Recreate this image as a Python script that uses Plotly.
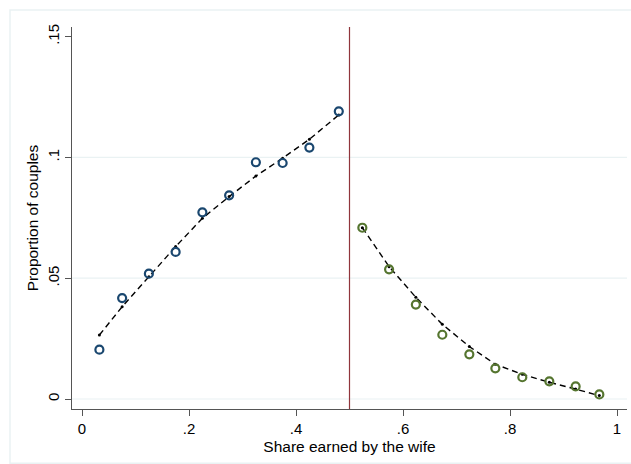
import plotly.graph_objects as go

# Binned shares of income earned by the wife, and proportion of couples per bin
share_below = [0.0325, 0.075, 0.125, 0.175, 0.225, 0.275, 0.325, 0.375, 0.425, 0.48]
prop_below = [0.0204, 0.0418, 0.0519, 0.0609, 0.0773, 0.0843, 0.0980, 0.0977, 0.1041, 0.1191]
fit_below = [0.0265, 0.0382, 0.0506, 0.0631, 0.0748, 0.0838, 0.0923, 0.0997, 0.1075, 0.1176]

share_above = [0.524, 0.574, 0.624, 0.6735, 0.724, 0.7726, 0.823, 0.8735, 0.9227, 0.967]
prop_above = [0.0709, 0.0537, 0.0391, 0.0266, 0.0185, 0.0127, 0.0090, 0.0073, 0.0052, 0.0019]
fit_above = [0.0709, 0.0548, 0.0421, 0.0309, 0.0217, 0.0144, 0.0102, 0.0069, 0.0041, 0.0014]

threshold = 0.5
x_ticks = [0, 0.2, 0.4, 0.6, 0.8, 1]
x_tick_labels = ["0", ".2", ".4", ".6", ".8", "1"]
y_ticks = [0, 0.05, 0.1, 0.15]
y_tick_labels = ["0", ".05", ".1", ".15"]
y_grid = [0, 0.05, 0.1]

NAVY = "#1a476f"
GREEN = "#55752f"
MAROON = "#90353b"
GRID = "#eaf2f3"
AXIS = "#555555"
FONT = "Liberation Sans, Arial, sans-serif"

fig = go.Figure()

# Horizontal gridlines
for g in y_grid:
    fig.add_shape(type="line", xref="paper", yref="y", x0=0, x1=1, y0=g, y1=g,
                  line=dict(color=GRID, width=1.2), layer="below")

# Fitted curves (dashed, with small dots at bin centres)
for xs, ys in [(share_below, fit_below), (share_above, fit_above)]:
    fig.add_trace(go.Scatter(
        x=xs, y=ys, mode="lines+markers",
        line=dict(color="black", width=1.4, dash="6px,4px"),
        marker=dict(color="black", size=3),
        hoverinfo="skip", showlegend=False,
    ))

# Observed bin proportions
fig.add_trace(go.Scatter(
    x=share_below, y=prop_below, mode="markers",
    marker=dict(symbol="circle-open", size=8, color=NAVY, line=dict(width=2.2, color=NAVY)),
    showlegend=False,
))
fig.add_trace(go.Scatter(
    x=share_above, y=prop_above, mode="markers",
    marker=dict(symbol="circle-open", size=8, color=GREEN, line=dict(width=2.2, color=GREEN)),
    showlegend=False,
))

# Vertical line at equal earnings
fig.add_shape(type="line", xref="x", yref="paper", x0=threshold, x1=threshold, y0=0, y1=1,
              line=dict(color=MAROON, width=1.2), layer="above")

# Outer graph-region frame
fig.add_shape(type="rect", xref="paper", yref="paper",
              x0=-0.1117, x1=1.02, y0=-0.142, y1=1.0445,
              line=dict(color=GRID, width=1.5), layer="below")

fig.update_layout(
    width=631, height=464,
    margin=dict(l=72, r=4, t=27, b=55),
    paper_bgcolor="white", plot_bgcolor="white",
    font=dict(family=FONT, size=15, color="black"),
    xaxis=dict(
        range=[-0.0187, 1.0187],
        tickvals=x_ticks, ticktext=x_tick_labels,
        showgrid=False, zeroline=False,
        showline=True, linecolor=AXIS, linewidth=1.3,
        ticks="outside", ticklen=6, tickcolor=AXIS, tickwidth=1.2,
        tickfont=dict(size=15),
        title=dict(text="Share earned by the wife", font=dict(size=15.5), standoff=4),
    ),
    yaxis=dict(
        range=[-0.00414, 0.154],
        tickvals=y_ticks, ticktext=y_tick_labels,
        tickangle=-90,
        showgrid=False, zeroline=False,
        showline=True, linecolor=AXIS, linewidth=1.3,
        ticks="outside", ticklen=6, tickcolor=AXIS, tickwidth=1.2,
        tickfont=dict(size=15),
        title=dict(text="Proportion of couples", font=dict(size=15.5), standoff=2),
    ),
)

fig.write_html("out.html")
